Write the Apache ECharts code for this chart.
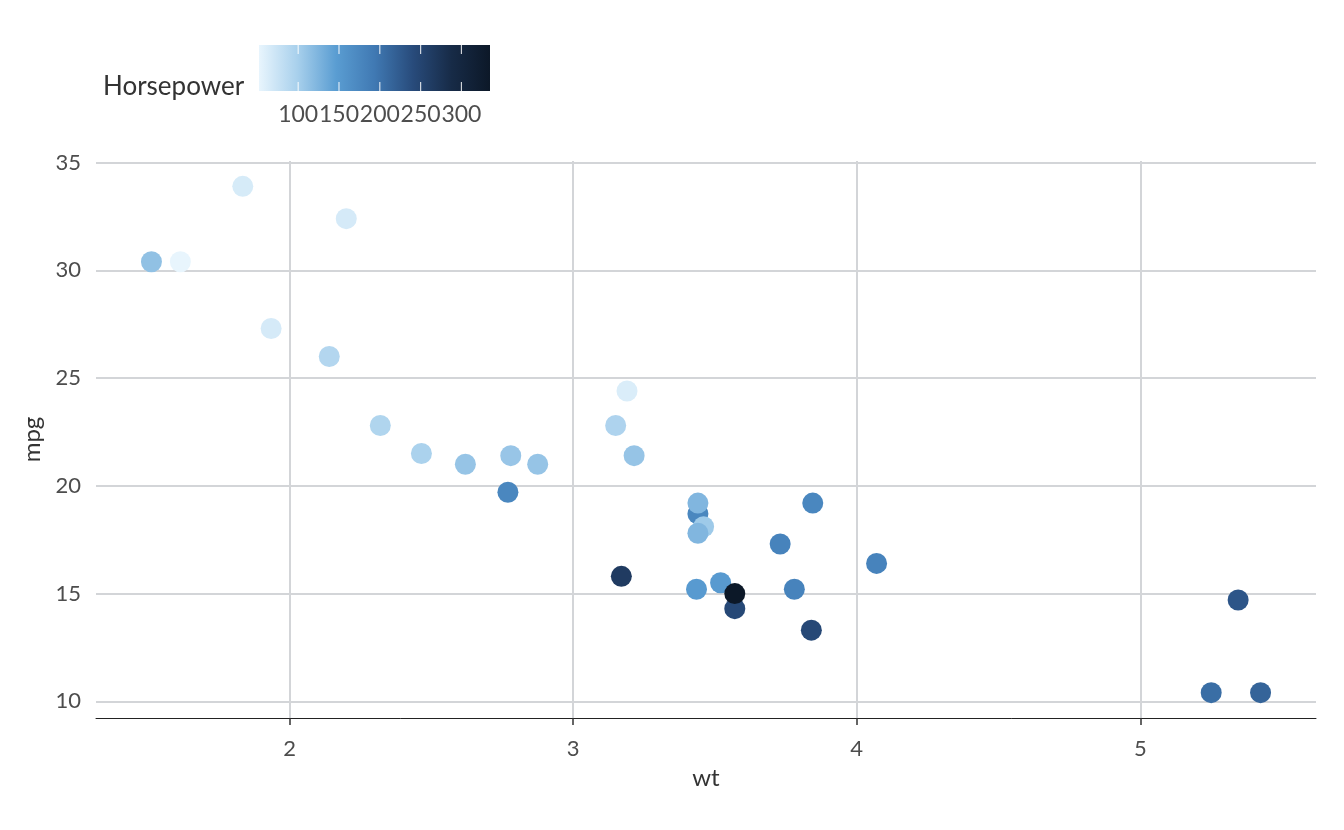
<!DOCTYPE html>
<html>
<head>
<meta charset="utf-8">
<script src="https://cdn.jsdelivr.net/npm/echarts@6/dist/echarts.min.js"></script>
<style>html,body{margin:0;padding:0;background:#fff;}#c{width:1344px;height:830px;}</style>
</head>
<body>
<div id="c"></div>
<script>
// mtcars
const wt  = [2.620,2.875,2.320,3.215,3.440,3.460,3.570,3.190,3.150,3.440,3.440,4.070,3.730,3.780,5.250,5.424,5.345,2.200,1.615,1.835,2.465,3.520,3.435,3.840,3.845,1.935,2.140,1.513,3.170,2.770,3.570,2.780];
const mpg = [21.0,21.0,22.8,21.4,18.7,18.1,14.3,24.4,22.8,19.2,17.8,16.4,17.3,15.2,10.4,10.4,14.7,32.4,30.4,33.9,21.5,15.5,15.2,13.3,19.2,27.3,26.0,30.4,15.8,19.7,15.0,21.4];
const hp  = [110,110,93,110,175,105,245,62,95,123,123,180,180,180,205,215,230,66,52,65,97,150,150,245,175,66,91,113,264,175,335,109];
const xTicks = [2,3,4,5];
const yTicks = [10,15,20,25,30,35];
const legendTicks = [100,150,200,250,300];
const colorStops = ['#e8f5fd','#a8d0ec','#5a9dd2','#4079b3','#284b7b','#172b47','#0c1828'];

const hpMin = Math.min(...hp), hpMax = Math.max(...hp);
const wtMin = Math.min(...wt), wtMax = Math.max(...wt);
const mpgMin = Math.min(...mpg), mpgMax = Math.max(...mpg);
const xPad = (wtMax - wtMin) * 0.05, yPad = (mpgMax - mpgMin) * 0.05;

const data = wt.map((w, i) => [w, mpg[i], hp[i]]);

const FONT = 'Lato';
const TXT = '#4d4d4d';

// legend geometry
const LX = 259, LW = 231, LY = 45, LH = 46;
const lpos = v => LX + (v - hpMin) / (hpMax - hpMin) * LW;

const graphics = [
  { type: 'text', x: 103, y: 87, style: { text: 'Horsepower', font: '26px Lato', fill: '#333', textAlign: 'left', textVerticalAlign: 'middle' } },
  { type: 'rect', shape: { x: LX, y: LY, width: LW, height: LH },
    style: { fill: new echarts.graphic.LinearGradient(0, 0, 1, 0,
      colorStops.map((c, i) => ({ offset: i / (colorStops.length - 1), color: c }))) } }
];
legendTicks.forEach(t => {
  const x = lpos(t);
  graphics.push({ type: 'line', shape: { x1: x, y1: LY, x2: x, y2: LY + 9 }, style: { stroke: '#fff', lineWidth: 1.2, opacity: 0.8 } });
  graphics.push({ type: 'line', shape: { x1: x, y1: LY + LH - 9, x2: x, y2: LY + LH }, style: { stroke: '#fff', lineWidth: 1.2, opacity: 0.8 } });
  graphics.push({ type: 'text', x: x, y: 115, style: { text: String(t), font: '23px Lato', fill: TXT, textAlign: 'center', textVerticalAlign: 'middle' } });
});

const chart = echarts.init(document.getElementById('c'));
chart.setOption({
  backgroundColor: '#fff',
  animation: false,
  grid: { left: 96, right: 28, top: 161, bottom: 112 },
  xAxis: {
    type: 'value', min: wtMin - xPad, max: wtMax + xPad,
    name: 'wt', nameLocation: 'middle', nameGap: 48,
    nameTextStyle: { fontFamily: FONT, fontSize: 24, color: '#333' },
    axisLine: { show: true, onZero: false, lineStyle: { color: '#222', width: 1 } },
    axisTick: { show: true, length: 7, customValues: xTicks, lineStyle: { color: '#333', width: 1.5 } },
    axisLabel: { customValues: xTicks, fontFamily: FONT, fontSize: 22, color: TXT, margin: 20 },
    splitLine: { show: true, lineStyle: { color: '#d3d5d8', width: 2 } }
  },
  yAxis: {
    type: 'value', min: mpgMin - yPad, max: mpgMax + yPad,
    name: 'mpg', nameLocation: 'middle', nameGap: 47, nameRotate: 90,
    nameTextStyle: { fontFamily: FONT, fontSize: 24, color: '#333' },
    axisLine: { show: false },
    axisTick: { show: false, customValues: yTicks },
    axisLabel: { customValues: yTicks, fontFamily: FONT, fontSize: 22, color: TXT, margin: 15 },
    splitLine: { show: true, lineStyle: { color: '#d3d5d8', width: 2 } }
  },
  visualMap: {
    type: 'continuous', show: false, dimension: 2, min: hpMin, max: hpMax,
    seriesIndex: 0, inRange: { color: colorStops }
  },
  series: [{
    type: 'scatter', data: data, symbolSize: 21,
    itemStyle: { opacity: 1 }
  }],
  graphic: graphics
});
</script>
</body>
</html>
